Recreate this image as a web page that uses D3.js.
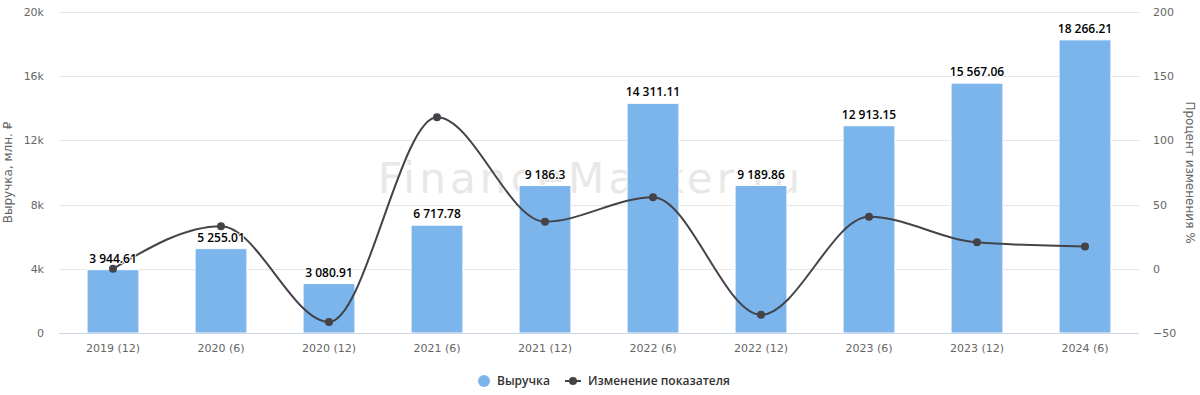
<!DOCTYPE html>
<html>
<head>
<meta charset="utf-8">
<script src="https://cdn.jsdelivr.net/npm/d3@7"></script>
<style>
  body { margin: 0; background: #fff; }
  svg { font-family: "DejaVu Sans", sans-serif; }
</style>
</head>
<body>
<div id="chart"></div>
<script>
// DATA //
const periods = ["2019 (12)", "2020 (6)", "2020 (12)", "2021 (6)", "2021 (12)",
                 "2022 (6)", "2022 (12)", "2023 (6)", "2023 (12)", "2024 (6)"];
const revenue = [3944.61, 5255.01, 3080.91, 6717.78, 9186.3,
                 14311.11, 9189.86, 12913.15, 15567.06, 18266.21];
const changePct = [0, 33.2, -41.4, 118.0, 36.7, 55.8, -35.8, 40.5, 20.6, 17.3];
const leftTicks = [0, 4000, 8000, 12000, 16000, 20000];
const rightTicks = [-50, 0, 50, 100, 150, 200];

// DIMENSIONS //
const W = 1200, H = 395;
const margin = {top: 12, right: 61, bottom: 62, left: 59};
const width = W - margin.left - margin.right,
      height = H - margin.top - margin.bottom;

const svg = d3.select("#chart").append("svg")
    .attr("width", W).attr("height", H);

// watermark (behind everything)
svg.append("text")
    .attr("x", 378).attr("y", 193)
    .attr("font-family", "DejaVu Sans, sans-serif")
    .attr("font-size", 42)
    .attr("textLength", 422).attr("lengthAdjust", "spacing")
    .attr("fill", "#e8e8e8")
    .text("FinanceMarker.ru");

const g = svg.append("g")
    .attr("transform", `translate(${margin.left},${margin.top})`);

// scales
const x = d3.scaleBand().domain(periods).range([0, width]).paddingInner(0.52).paddingOuter(0.26);
const yL = d3.scaleLinear().domain([0, 20000]).range([height, 0]);
const yR = d3.scaleLinear().domain([-50, 200]).range([height, 0]);

// grid
g.append("g").selectAll("line").data(leftTicks).enter().append("line")
    .attr("x1", 0).attr("x2", width)
    .attr("y1", d => Math.round(yL(d)) + 0.5).attr("y2", d => Math.round(yL(d)) + 0.5)
    .attr("stroke", "#e6e6e6");

// left axis labels
g.append("g").selectAll("text").data(leftTicks).enter().append("text")
    .attr("x", -15).attr("y", d => yL(d) + 4)
    .attr("text-anchor", "end")
    .attr("font-size", 11).attr("fill", "#666")
    .text(d => d === 0 ? "0" : (d / 1000) + "k");

// right axis labels
g.append("g").selectAll("text").data(rightTicks).enter().append("text")
    .attr("x", width + 14).attr("y", d => yR(d) + 4)
    .attr("text-anchor", "start")
    .attr("font-size", 11).attr("fill", "#666")
    .text(d => d < 0 ? "\u2212" + Math.abs(d) : d);

// axis titles
svg.append("text")
    .attr("transform", `translate(12,${margin.top + height / 2}) rotate(-90)`)
    .attr("text-anchor", "middle")
    .attr("font-size", 12).attr("fill", "#666")
    .text("Выручка, млн. ₽");
svg.append("text")
    .attr("transform", `translate(1186,${margin.top + height / 2}) rotate(90)`)
    .attr("text-anchor", "middle")
    .attr("font-size", 12).attr("fill", "#666")
    .text("Процент изменения %");

// bars
g.append("g").selectAll("rect").data(revenue).enter().append("rect")
    .attr("x", (d, i) => x(periods[i]))
    .attr("y", d => yL(d))
    .attr("width", x.bandwidth())
    .attr("height", d => height - yL(d))
    .attr("fill", "#7cb5ec")
    .attr("stroke", "#fff").attr("stroke-width", 1);

// x axis line
g.append("line")
    .attr("x1", 0).attr("x2", width)
    .attr("y1", height + 0.5).attr("y2", height + 0.5)
    .attr("stroke", "#ccd6eb");

// x labels
g.append("g").selectAll("text").data(periods).enter().append("text")
    .attr("x", d => x(d) + x.bandwidth() / 2)
    .attr("y", height + 19)
    .attr("text-anchor", "middle")
    .attr("font-size", 11).attr("fill", "#666")
    .text(d => d);

// line
const cx = i => x(periods[i]) + x.bandwidth() / 2;
const line = d3.line()
    .x((d, i) => cx(i))
    .y(d => yR(d))
    .curve(d3.curveMonotoneX);
g.append("path")
    .datum(changePct)
    .attr("d", line)
    .attr("fill", "none")
    .attr("stroke", "#434348")
    .attr("stroke-width", 2);
g.append("g").selectAll("circle").data(changePct).enter().append("circle")
    .attr("cx", (d, i) => cx(i)).attr("cy", d => yR(d))
    .attr("r", 4).attr("fill", "#434348");

// data labels
const fmt = v => {
    const parts = String(v).split(".");
    parts[0] = parts[0].replace(/\B(?=(\d{3})+(?!\d))/g, " ");
    return parts.join(".");
};
g.append("g").selectAll("text").data(revenue).enter().append("text")
    .attr("x", (d, i) => cx(i))
    .attr("y", d => yL(d) - 7)
    .attr("text-anchor", "middle")
    .attr("font-family", "Open Sans, sans-serif")
    .attr("font-size", 12).attr("font-weight", 600)
    .attr("fill", "#000")
    .attr("stroke", "#fff").attr("stroke-width", 2)
    .attr("paint-order", "stroke")
    .text(d => fmt(d));

// legend
const lg = svg.append("g").attr("transform", "translate(0,381)")
    .attr("font-family", "Open Sans, sans-serif");
lg.append("circle").attr("cx", 484).attr("cy", 0).attr("r", 6).attr("fill", "#7cb5ec");
lg.append("text").attr("x", 497).attr("y", 4)
    .attr("font-size", 12).attr("font-weight", 600).attr("fill", "#333")
    .text("Выручка");
lg.append("line").attr("x1", 565).attr("x2", 581).attr("y1", 0).attr("y2", 0)
    .attr("stroke", "#434348").attr("stroke-width", 2);
lg.append("circle").attr("cx", 573).attr("cy", 0).attr("r", 4).attr("fill", "#434348");
lg.append("text").attr("x", 588).attr("y", 4)
    .attr("font-size", 12).attr("font-weight", 600).attr("fill", "#333")
    .text("Изменение показателя");
</script>
</body>
</html>
